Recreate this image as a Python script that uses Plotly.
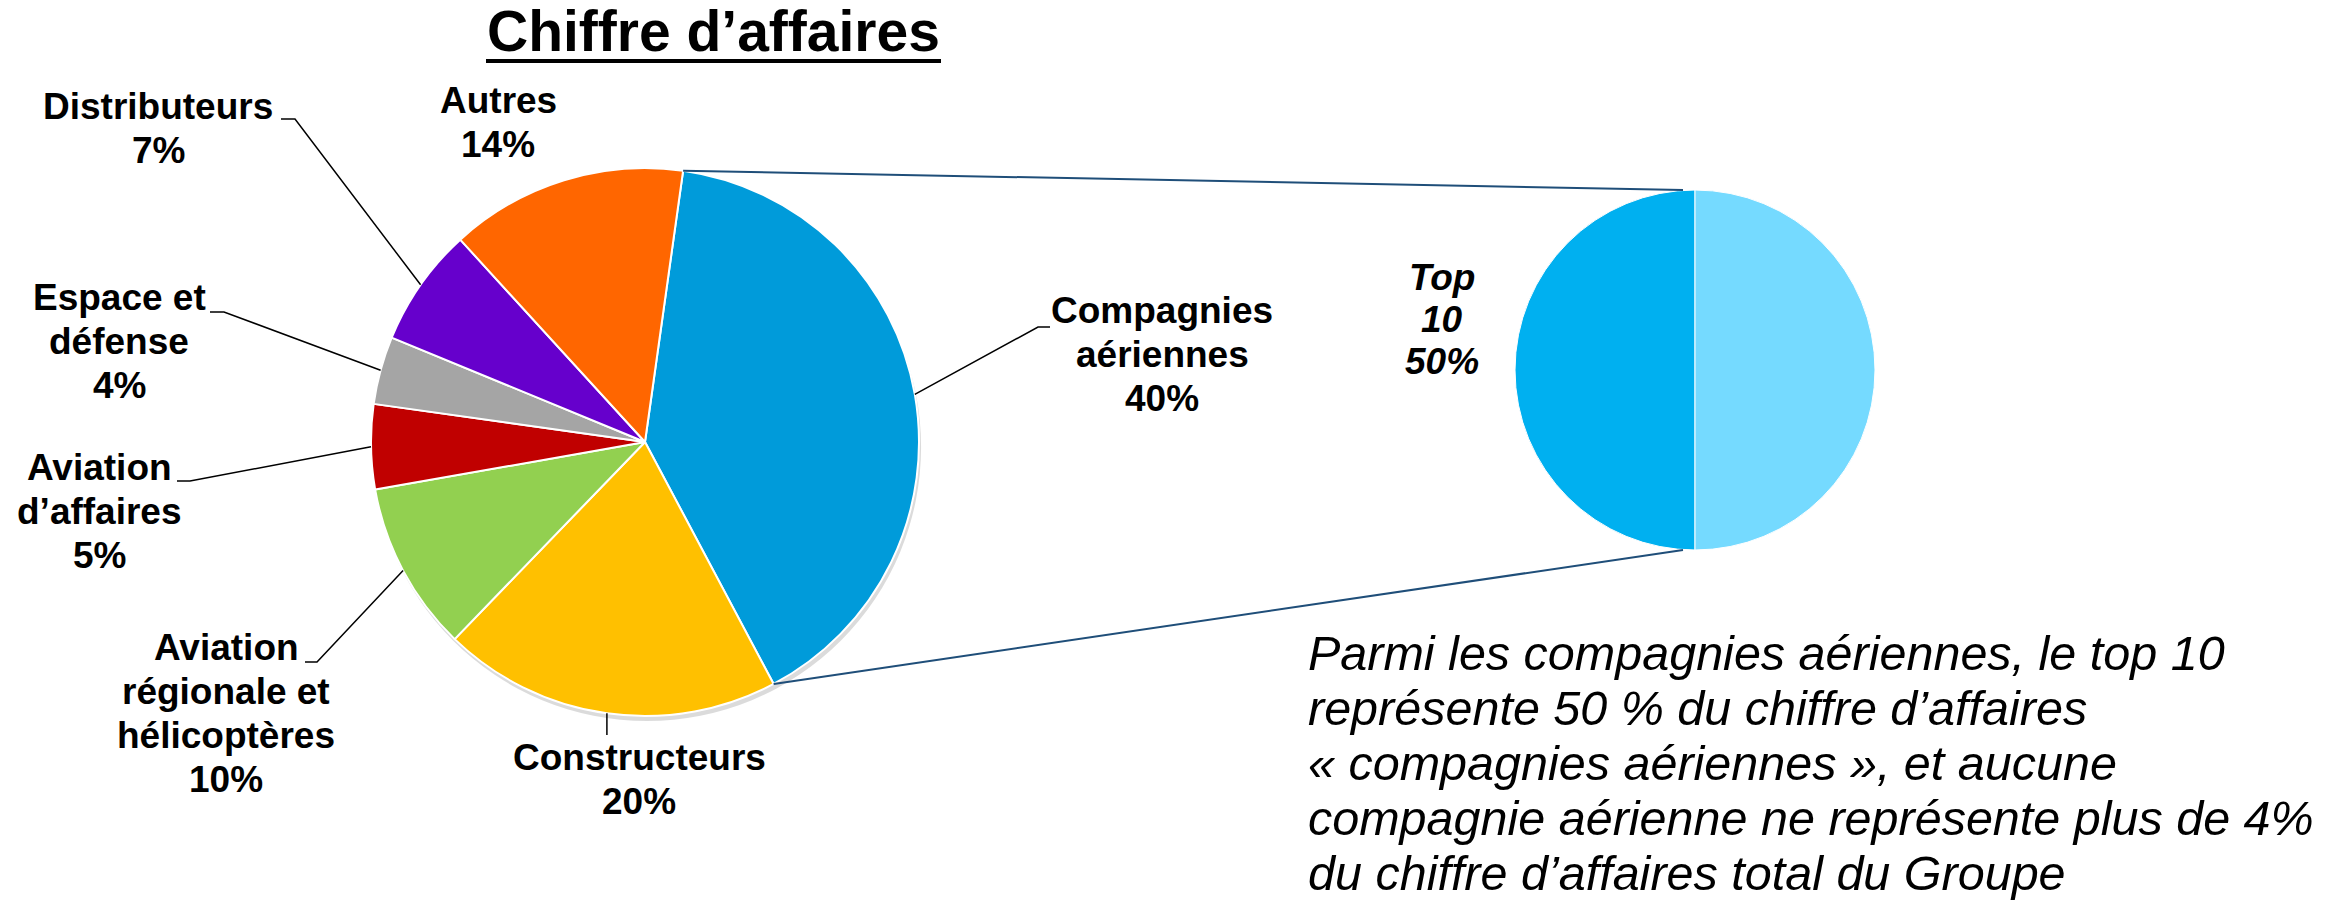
import math
import plotly.graph_objects as go

W, H = 2330, 904

# ---------------- data ----------------
categories = ["Compagnies aériennes", "Constructeurs", "Aviation régionale et hélicoptères",
              "Aviation d’affaires", "Espace et défense", "Distributeurs", "Autres"]
shares = [40, 20, 10, 5, 4, 7, 14]
label_lines = [["Compagnies", "aériennes"], ["Constructeurs"],
               ["Aviation", "régionale et", "hélicoptères"], ["Aviation", "d’affaires"],
               ["Espace et", "défense"], ["Distributeurs"], ["Autres"]]
colors = ["#009BDA", "#FFC000", "#92D050", "#C00000", "#A5A5A5", "#6600CC", "#FF6600"]

sub_categories = ["Top 10", "Autres compagnies"]
sub_shares = [50, 50]
sub_colors = ["#00B0F0", "#75DAFF"]

title_text = "Chiffre d’affaires"
note_lines = ["Parmi les compagnies aériennes, le top 10",
              "représente 50 % du chiffre d’affaires",
              "« compagnies aériennes », et aucune",
              "compagnie aérienne ne représente plus de 4%",
              "du chiffre d’affaires total du Groupe"]

# ---------------- layout constants (pixels) ----------------
FONT = "Liberation Sans, Arial, sans-serif"
MAIN_CX, MAIN_CY, MAIN_R = 645, 442, 274
SUB_CX, SUB_CY, SUB_R = 1695, 370, 180
ROT = 8
LBL = 37
LINE = 44

# label centre x, first baseline, label-side leader points (None = no leader,
# "v" = vertical leader down to the given y)
label_pos = [
    (1162, 323, [(1050, 327), (1038, 327)]),
    (639, 770, ("v", 735)),
    (226, 660, [(305, 662), (317, 662)]),
    (99, 480, [(177, 481), (190, 481)]),
    (119, 310, [(210, 312), (224, 312)]),
    (158, 119, [(281, 119), (295, 119)]),
    (498, 113, None),
]


def dom(cx, cy, r):
    return dict(x=[(cx - r) / W, (cx + r) / W], y=[1 - (cy + r) / H, 1 - (cy - r) / H])


def edge(cx, cy, r, ang):
    a = math.radians(ang)
    return cx + r * math.sin(a), cy - r * math.cos(a)


fig = go.Figure()

# soft shadow under the main pie
fig.add_trace(go.Pie(values=[1], marker=dict(colors=["rgba(0,0,0,0.14)"]),
                     domain=dom(MAIN_CX + 2, MAIN_CY + 5, MAIN_R), textinfo="none",
                     hoverinfo="skip", showlegend=False, sort=False))

fig.add_trace(go.Pie(labels=categories, values=shares, sort=False, direction="clockwise",
                     rotation=ROT, marker=dict(colors=colors, line=dict(color="white", width=2)),
                     domain=dom(MAIN_CX, MAIN_CY, MAIN_R), textinfo="none", showlegend=False))

fig.add_trace(go.Pie(labels=sub_categories, values=sub_shares, sort=False, direction="clockwise",
                     rotation=180, marker=dict(colors=sub_colors, line=dict(color="white", width=1)),
                     domain=dom(SUB_CX, SUB_CY, SUB_R), textinfo="none", showlegend=False))

# invisible pixel-space axes for annotations and lines
fig.update_layout(
    width=W, height=H, margin=dict(l=0, r=0, t=0, b=0),
    paper_bgcolor="white", plot_bgcolor="rgba(0,0,0,0)",
    xaxis=dict(range=[0, W], visible=False, fixedrange=True),
    yaxis=dict(range=[H, 0], visible=False, fixedrange=True),
    showlegend=False,
)

annotations = []
shapes = []


def text_line(txt, x, baseline, size, xanchor="center", bold=True, italic=False):
    t = txt
    if bold:
        t = "<b>" + t + "</b>"
    if italic:
        t = "<i>" + t + "</i>"
    annotations.append(dict(x=x, y=baseline - 0.35 * size, xref="x", yref="y", text=t,
                            showarrow=False, xanchor=xanchor, yanchor="middle", borderpad=0,
                            font=dict(family=FONT, size=size, color="black")))


# title
text_line(title_text, 713, 51, 57)
shapes.append(dict(type="line", xref="x", yref="y", x0=486, x1=941, y0=61, y1=61,
                   line=dict(color="black", width=4)))

# slice labels + leader lines
cum = 0
for v, lines, (cx, b0, pts) in zip(shares, label_lines, label_pos):
    mid = ROT + (cum + v / 2) * 3.6
    cum += v
    all_lines = lines + [f"{v}%"]
    for i, ln in enumerate(all_lines):
        text_line(ln, cx, b0 + i * LINE, LBL)
    if pts:
        ex, ey = edge(MAIN_CX, MAIN_CY, MAIN_R, mid)
        if isinstance(pts, tuple) and pts[0] == "v":
            path_pts = [(ex, ey), (ex, pts[1])]
        else:
            path_pts = [(ex, ey), pts[-1], pts[0]]
        d = "M " + " L ".join(f"{px:.1f},{py:.1f}" for px, py in path_pts)
        shapes.append(dict(type="path", xref="x", yref="y", path=d,
                           line=dict(color="black", width=1.5)))

# connector lines from the airline slice to the detail pie
a_start = ROT
a_end = ROT + shares[0] * 3.6
sx0, sy0 = edge(MAIN_CX, MAIN_CY, MAIN_R, a_start)
sx1, sy1 = edge(MAIN_CX, MAIN_CY, MAIN_R, a_end)
tx = SUB_CX - 12
shapes.append(dict(type="line", xref="x", yref="y", x0=sx0, y0=sy0, x1=tx, y1=SUB_CY - SUB_R,
                   line=dict(color="#1F4E79", width=2)))
shapes.append(dict(type="line", xref="x", yref="y", x0=sx1, y0=sy1, x1=tx, y1=SUB_CY + SUB_R,
                   line=dict(color="#1F4E79", width=2)))

# detail pie label
for i, ln in enumerate(["Top", "10", f"{sub_shares[0]}%"]):
    text_line(ln, 1442, 290 + i * 42, LBL, italic=True)

# note paragraph
for i, ln in enumerate(note_lines):
    text_line(ln, 1307, 670 + i * 55, 48.5, xanchor="left", bold=False, italic=True)

fig.update_layout(annotations=annotations, shapes=shapes)
fig.write_html("out.html", config={"displayModeBar": False},
               post_script="document.body.style.margin='0';document.body.style.overflow='hidden';")
